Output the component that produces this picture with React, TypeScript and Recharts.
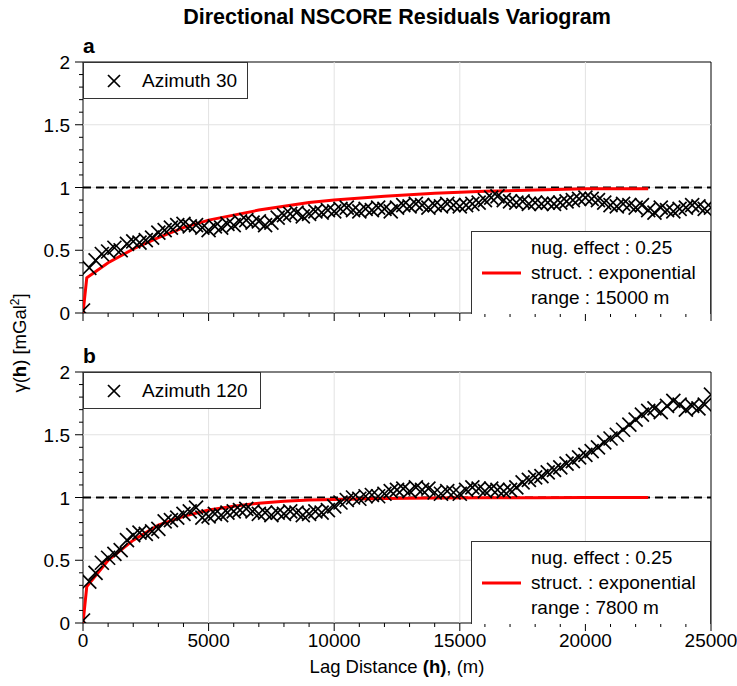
import {
  ComposedChart,
  Scatter,
  Line,
  XAxis,
  YAxis,
  ReferenceLine,
  ReferenceArea,
} from "recharts";

// lag distances (m) shared by both directions
const lags = [
  0, 250, 500, 750, 1000, 1250, 1500, 1750, 2000, 2250, 2500, 2750, 3000,
  3250, 3500, 3750, 4000, 4250, 4500, 4750, 5000, 5250, 5500, 5750, 6000,
  6250, 6500, 6750, 7000, 7250, 7500, 7750, 8000, 8250, 8500, 8750, 9000,
  9250, 9500, 9750, 10000, 10250, 10500, 10750, 11000, 11250, 11500, 11750,
  12000, 12250, 12500, 12750, 13000, 13250, 13500, 13750, 14000, 14250,
  14500, 14750, 15000, 15250, 15500, 15750, 16000, 16250, 16500, 16750,
  17000, 17250, 17500, 17750, 18000, 18250, 18500, 18750, 19000, 19250,
  19500, 19750, 20000, 20250, 20500, 20750, 21000, 21250, 21500, 21750,
  22000, 22250, 22500, 22750, 23000, 23250, 23500, 23750, 24000, 24250,
  24500, 24750, 25000,
];

const gammaAz30 = [
  0.02, 0.36, 0.42, 0.47, 0.49, 0.52, 0.5, 0.55, 0.57, 0.56, 0.58, 0.6, 0.64,
  0.66, 0.68, 0.7, 0.71, 0.69, 0.7, 0.68, 0.66, 0.69, 0.68, 0.71, 0.7, 0.73,
  0.74, 0.72, 0.73, 0.7, 0.72, 0.76, 0.78, 0.79, 0.8, 0.77, 0.79, 0.81, 0.8,
  0.82, 0.81, 0.83, 0.84, 0.82, 0.81, 0.83, 0.82, 0.84, 0.83, 0.81, 0.84,
  0.86, 0.85, 0.87, 0.86, 0.84, 0.86, 0.85, 0.87, 0.86, 0.85, 0.86, 0.87,
  0.88, 0.9, 0.92, 0.93, 0.9, 0.89, 0.88, 0.89, 0.87, 0.88, 0.87, 0.88, 0.87,
  0.88, 0.89, 0.9, 0.91, 0.92, 0.91, 0.9, 0.88, 0.86, 0.85, 0.87, 0.86, 0.84,
  0.86, 0.82, 0.8, 0.84, 0.82, 0.81, 0.83, 0.84, 0.86, 0.85, 0.83, 0.84,
];

const gammaAz120 = [
  0.02, 0.33, 0.4, 0.48, 0.52, 0.55, 0.58, 0.66, 0.7, 0.72, 0.71, 0.73, 0.75,
  0.81, 0.82, 0.84, 0.87, 0.89, 0.92, 0.84, 0.85, 0.87, 0.86, 0.88, 0.89,
  0.9, 0.91, 0.89, 0.87, 0.88, 0.86, 0.88, 0.87, 0.89, 0.88, 0.86, 0.87,
  0.89, 0.88, 0.9, 0.93, 0.96, 0.98, 1.0, 0.99, 1.01, 1.02, 1.01, 1.03, 1.05,
  1.06, 1.07, 1.05, 1.08, 1.06, 1.07, 1.04, 1.03, 1.05, 1.04, 1.03, 1.06,
  1.08, 1.07, 1.05, 1.07, 1.06, 1.05, 1.06, 1.08, 1.12, 1.14, 1.16, 1.17,
  1.2, 1.22, 1.24, 1.27, 1.29, 1.32, 1.34, 1.37, 1.4, 1.44, 1.47, 1.5, 1.54,
  1.58, 1.62, 1.66, 1.69, 1.71, 1.68, 1.73, 1.77, 1.74, 1.7, 1.73, 1.71,
  1.74, 1.82,
];

// fitted model curves
const modelLags = [
  0, 150, 1000, 2000, 3000, 4000, 5000, 6000, 7000, 8000, 9000, 10000, 12000,
  14000, 16000, 18000, 20000, 22500,
];
const modelAz30 = [
  0, 0.28, 0.4, 0.51, 0.6, 0.68, 0.74, 0.78, 0.82, 0.85, 0.88, 0.9, 0.93,
  0.955, 0.97, 0.98, 0.99, 0.99,
];
const modelAz120 = [
  0, 0.29, 0.5, 0.66, 0.78, 0.85, 0.9, 0.93, 0.955, 0.97, 0.98, 0.985, 0.993,
  0.997, 0.998, 0.999, 1.0, 1.0,
];

const xMajor = [0, 5000, 10000, 15000, 20000, 25000];
const xMinor = Array.from({ length: 26 }, (_, i) => i * 1000);
const yMajor = [0, 0.5, 1, 1.5, 2];
const yMinor = Array.from({ length: 21 }, (_, i) => i / 10);

const FONT = '"Liberation Sans", Arial, Helvetica, sans-serif';
const TICK_FS = 19;

const panels = [
  {
    key: "a",
    azimuth: "Azimuth 30",
    range: "15000 m",
    values: gammaAz30,
    model: modelAz30,
    top: 0,
    height: 330,
    marginTop: 62,
    axisHeight: 17,
    labels: false,
  },
  {
    key: "b",
    azimuth: "Azimuth 120",
    range: "7800 m",
    values: gammaAz120,
    model: modelAz120,
    top: 330,
    height: 356,
    marginTop: 42,
    axisHeight: 63,
    labels: true,
  },
];

const XMark = (props: any) => {
  const { cx, cy } = props;
  const s = 7;
  return (
    <g stroke="#000" strokeWidth={1.7}>
      <line x1={cx - s} y1={cy - s} x2={cx + s} y2={cy + s} />
      <line x1={cx - s} y1={cy + s} x2={cx + s} y2={cy - s} />
    </g>
  );
};

const makeXTick = (showLabels: boolean) => (props: any) => {
  const { x, y, payload } = props;
  const major = payload.value % 5000 === 0;
  return (
    <g>
      <line x1={x} y1={y} x2={x} y2={y + (major ? 8 : 4)} stroke="#000" />
      {showLabels && major && (
        <text
          x={x}
          y={y + 24}
          textAnchor="middle"
          fontSize={TICK_FS}
          fontFamily={FONT}
          fill="#000"
        >
          {payload.value}
        </text>
      )}
    </g>
  );
};

const YTick = (props: any) => {
  const { x, y, payload } = props;
  const major = Math.round(payload.value * 10) % 5 === 0;
  return (
    <g>
      <line x1={x - (major ? 8 : 4)} y1={y} x2={x} y2={y} stroke="#000" />
      {major && (
        <text
          x={x - 13}
          y={y + 7}
          textAnchor="end"
          fontSize={TICK_FS}
          fontFamily={FONT}
          fill="#000"
        >
          {payload.value}
        </text>
      )}
    </g>
  );
};

const App = () => {
  return (
    <div
      style={{
        position: "absolute",
        left: 0,
        top: 0,
        width: 737,
        height: 686,
        background: "#fff",
        fontFamily: FONT,
      }}
    >
      {panels.map((p) => {
        const points = lags.map((h, i) => ({ h, g: p.values[i] }));
        const model = modelLags.map((h, i) => ({ h, m: p.model[i] }));
        return (
          <div
            key={p.key}
            style={{ position: "absolute", left: 0, top: p.top }}
          >
            <ComposedChart
              width={737}
              height={p.height}
              margin={{ top: p.marginTop, right: 26, left: 0, bottom: 0 }}
            >
              <XAxis
                dataKey="h"
                type="number"
                domain={[0, 25000]}
                ticks={xMinor}
                interval={0}
                height={p.axisHeight}
                tickSize={0}
                tickMargin={0}
                tickLine={false}
                axisLine={false}
                tick={makeXTick(p.labels)}
                allowDataOverflow
              />
              <YAxis
                type="number"
                domain={[0, 2]}
                ticks={yMinor}
                interval={0}
                width={83}
                tickSize={0}
                tickMargin={0}
                tickLine={false}
                axisLine={false}
                tick={<YTick />}
                allowDataOverflow
              />
              {xMajor.slice(1, -1).map((v) => (
                <ReferenceLine key={"gx" + v} x={v} stroke="#e2e2e2" />
              ))}
              {yMajor.slice(1, -1).map((v) => (
                <ReferenceLine key={"gy" + v} y={v} stroke="#e2e2e2" />
              ))}
              <Scatter
                data={points}
                dataKey="g"
                shape={<XMark />}
                isAnimationActive={false}
              />
              <ReferenceLine
                y={1}
                stroke="#000"
                strokeWidth={2}
                strokeDasharray="8 5"
              />
              <Line
                data={model}
                dataKey="m"
                type="linear"
                stroke="#ff0000"
                strokeWidth={3}
                dot={false}
                isAnimationActive={false}
              />
              <ReferenceArea
                x1={0}
                x2={25000}
                y1={0}
                y2={2}
                fill="none"
                fillOpacity={0}
                stroke="#000"
                strokeWidth={1}
              />
            </ComposedChart>
          </div>
        );
      })}

      {/* legend boxes */}
      {panels.map((p) => {
        const plotTop = p.top + p.marginTop;
        const plotBottom = p.top + p.height - p.axisHeight;
        return (
          <div key={"leg" + p.key}>
            <div
              style={{
                position: "absolute",
                left: 83,
                top: plotTop,
                width: p.key === "a" ? 165 : 178,
                height: 37,
                border: "1px solid #333",
                boxSizing: "border-box",
                background: "#fff",
                display: "flex",
                alignItems: "center",
                fontSize: TICK_FS,
              }}
            >
              <svg width={58} height={20} style={{ flex: "none" }}>
                <g stroke="#000" strokeWidth={1.7}>
                  <line x1={24} y1={4} x2={36} y2={16} />
                  <line x1={24} y1={16} x2={36} y2={4} />
                </g>
              </svg>
              <span>{p.azimuth}</span>
            </div>
            <div
              style={{
                position: "absolute",
                left: 471,
                top: plotBottom - 82,
                width: 240,
                height: 83,
                border: "1px solid #333",
                borderBottom: "none",
                boxSizing: "border-box",
                background: "#fff",
                display: "flex",
                alignItems: "center",
                fontSize: TICK_FS,
              }}
            >
              <svg width={59} height={10} style={{ flex: "none" }}>
                <line x1={10} y1={5} x2={49} y2={5} stroke="#ff0000" strokeWidth={3} />
              </svg>
              <div style={{ lineHeight: "25px", marginTop: -2, whiteSpace: "nowrap" }}>
                <div>nug. effect : 0.25</div>
                <div>struct. : exponential</div>
                <div>range : {p.range}</div>
              </div>
            </div>
          </div>
        );
      })}

      {/* titles and axis labels */}
      <svg
        width={737}
        height={686}
        style={{ position: "absolute", left: 0, top: 0, pointerEvents: "none" }}
        fontFamily={FONT}
      >
        <text x={397} y={24} textAnchor="middle" fontSize={21.5} fontWeight="bold">
          Directional NSCORE Residuals Variogram
        </text>
        <text x={83} y={53} fontSize={21} fontWeight="bold">
          a
        </text>
        <text x={83} y={363} fontSize={21} fontWeight="bold">
          b
        </text>
        <text x={397} y={673} textAnchor="middle" fontSize={18.5}>
          Lag Distance <tspan fontWeight="bold">(h)</tspan>, (m)
        </text>
        <text
          x={0}
          y={0}
          transform="translate(26,343) rotate(-90)"
          textAnchor="middle"
          fontSize={18.5}
        >
          γ(<tspan fontWeight="bold">h</tspan>) [mGal<tspan fontSize={12} dy={-7}>2</tspan>
          <tspan dy={7}>]</tspan>
        </text>
      </svg>
    </div>
  );
};

export default App;
